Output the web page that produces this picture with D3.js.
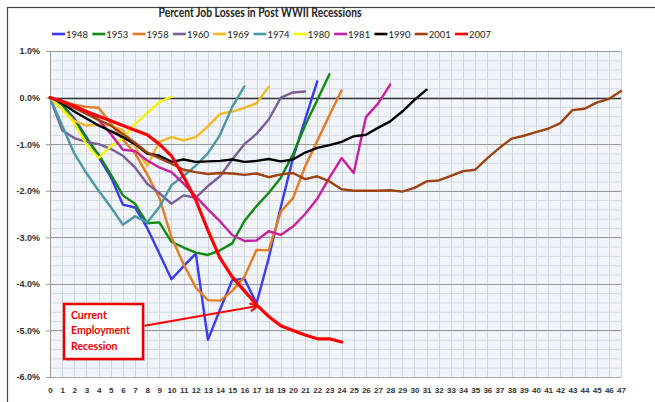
<!DOCTYPE html>
<html>
<head>
<meta charset="utf-8">
<script src="https://cdn.jsdelivr.net/npm/d3@7"></script>
<style>
  body { margin: 0; background: #fff; }
  svg { display: block; font-family: Lato, "Open Sans", sans-serif; }
  .axis text { font-weight: bold; fill: #333; }
</style>
</head>
<body>
<div id="chart"></div>
<script>
// months since peak
var monthTicks = [0, 1, 2, 3, 4, 5, 6, 7, 8, 9, 10, 11, 12, 13, 14, 15, 16, 17, 18, 19, 20, 21, 22, 23,
  24, 25, 26, 27, 28, 29, 30, 31, 32, 33, 34, 35, 36, 37, 38, 39, 40, 41, 42, 43, 44, 45, 46, 47];
var pctTicks = [1, 0, -1, -2, -3, -4, -5, -6];

var years = ["1948", "1953", "1958", "1960", "1969", "1974", "1980", "1981", "1990", "2001", "2007"];

// percent job losses by month
var s1948 = [0, -0.15, -0.45, -0.85, -1.28, -1.7, -2.3, -2.36, -2.8, -3.35, -3.9, -3.62, -3.35, -5.2, -4.55,
  -3.92, -3.89, -4.42, -3.45, -2.35, -1.3, -0.47, 0.35];
var s1953 = [0, -0.15, -0.5, -0.88, -1.22, -1.65, -2.1, -2.28, -2.7, -2.68, -3.1, -3.22, -3.33, -3.38, -3.28,
  -3.13, -2.65, -2.33, -2.05, -1.72, -1.22, -0.6, -0.05, 0.5];
var s1958 = [0, -0.1, -0.15, -0.2, -0.22, -0.55, -0.9, -1.2, -1.65, -2.15, -3.0, -3.58, -4.08, -4.35, -4.36,
  -4.15, -3.85, -3.27, -3.28, -2.45, -2.16, -1.48, -0.93, -0.38, 0.15];
var s1960 = [0, -0.7, -0.87, -0.95, -1.0, -1.1, -1.25, -1.5, -1.85, -2.05, -2.28, -2.1, -2.15, -1.9, -1.69,
  -1.33, -1.0, -0.78, -0.47, 0.0, 0.11, 0.13];
var s1969 = [0, -0.25, -0.5, -0.6, -0.58, -0.6, -0.7, -1.05, -1.47, -0.95, -0.85, -0.92, -0.85, -0.62, -0.35,
  -0.3, -0.22, -0.12, 0.23];
var s1974 = [0, -0.6, -1.2, -1.62, -2.0, -2.35, -2.73, -2.55, -2.68, -2.35, -1.88, -1.68, -1.46, -1.2, -0.8,
  -0.2, 0.24];
var s1980 = [0, -0.25, -0.55, -1.0, -1.3, -1.05, -0.88, -0.57, -0.33, -0.1, 0.02];
var s1981 = [0, -0.1, -0.2, -0.3, -0.48, -0.78, -1.12, -1.15, -1.35, -1.5, -1.6, -1.85, -2.12, -2.4, -2.66,
  -2.95, -3.08, -3.07, -2.87, -2.95, -2.77, -2.5, -2.17, -1.72, -1.3, -1.62, -0.42, -0.13, 0.28];
var s1990 = [0, -0.12, -0.3, -0.45, -0.6, -0.72, -0.85, -1.0, -1.2, -1.25, -1.38, -1.33, -1.38, -1.37, -1.36,
  -1.33, -1.38, -1.36, -1.32, -1.37, -1.33, -1.18, -1.08, -1.02, -0.95, -0.83, -0.8, -0.65, -0.51, -0.3,
  -0.05, 0.17];
var s2001 = [0, -0.1, -0.22, -0.35, -0.48, -0.6, -0.78, -0.97, -1.18, -1.3, -1.42, -1.55, -1.6, -1.64, -1.62,
  -1.63, -1.66, -1.63, -1.71, -1.65, -1.62, -1.75, -1.69, -1.8, -1.97, -2.0, -2.0, -2.0, -1.99, -2.02,
  -1.94, -1.8, -1.78, -1.68, -1.58, -1.55, -1.3, -1.08, -0.88, -0.82, -0.74, -0.67, -0.55, -0.27, -0.24,
  -0.11, -0.03, 0.14];
var s2007 = [0, -0.08, -0.18, -0.3, -0.4, -0.5, -0.6, -0.7, -0.8, -1.0, -1.25, -1.7, -2.2, -2.85, -3.45,
  -3.85, -4.15, -4.45, -4.7, -4.9, -5.0, -5.1, -5.18, -5.18, -5.25];

var seriesValues = [s1948, s1953, s1958, s1960, s1969, s1974, s1980, s1981, s1990, s2001, s2007];

var colors = {
  "1948": "#3a3af2", "1953": "#128a12", "1958": "#e67c22", "1960": "#7a5e9a",
  "1969": "#f5b823", "1974": "#4b98a8", "1980": "#f5f50a", "1981": "#c9209f",
  "1990": "#000000", "2001": "#a0420f", "2007": "#ff0000"
};

var width = 655,
    height = 402;

var svg = d3.select("#chart").append("svg")
    .attr("width", width)
    .attr("height", height);

// outer chart frame
svg.append("rect")
    .attr("x", 7.5).attr("y", 7.5)
    .attr("width", 660).attr("height", 410)
    .attr("fill", "#fff")
    .attr("stroke", "#444")
    .attr("stroke-width", 1.2);

var x = d3.scaleLinear().domain([0, 47]).range([50, 621]);
var y = d3.scaleLinear().domain([-6, 1]).range([377, 51]);

// plot background
svg.append("rect")
    .attr("x", x(0)).attr("y", y(1))
    .attr("width", x(47) - x(0))
    .attr("height", y(-6) - y(1))
    .attr("fill", "#f1f5fa");

// minor horizontal grid (every 0.2%)
svg.append("g")
  .selectAll("line")
  .data(d3.range(-60, 11, 2).map(function(d) { return d / 10; }))
  .enter().append("line")
    .attr("x1", x(0)).attr("x2", x(47))
    .attr("y1", function(d) { return y(d) + 0.5; })
    .attr("y2", function(d) { return y(d) + 0.5; })
    .attr("stroke", "#d3dae3")
    .attr("stroke-width", 1);

// vertical grid
svg.append("g")
  .selectAll("line")
  .data(monthTicks.slice(1))
  .enter().append("line")
    .attr("x1", function(d) { return Math.round(x(d)) + 0.5; })
    .attr("x2", function(d) { return Math.round(x(d)) + 0.5; })
    .attr("y1", y(1)).attr("y2", y(-6))
    .attr("stroke", "#cfd6df")
    .attr("stroke-width", 1);

// major horizontal grid
svg.append("g")
  .selectAll("line")
  .data(pctTicks)
  .enter().append("line")
    .attr("x1", x(0)).attr("x2", x(47))
    .attr("y1", function(d) { return Math.round(y(d)) + 0.5; })
    .attr("y2", function(d) { return Math.round(y(d)) + 0.5; })
    .attr("stroke", function(d) { return d === 0 ? "#333" : "#9a9a9a"; })
    .attr("stroke-width", function(d) { return d === 0 ? 1.5 : 1; });

// y axis
var yAxis = svg.append("g")
    .attr("class", "axis")
    .attr("transform", "translate(" + x(0) + ",0)")
    .call(d3.axisLeft(y)
      .tickValues(pctTicks)
      .tickSize(4)
      .tickPadding(6)
      .tickFormat(function(d) { return d.toFixed(1) + "%"; }));
yAxis.selectAll("text").style("font-size", "9px");
yAxis.selectAll("line, path").attr("stroke", "#999");

// x axis labels
var xAxis = svg.append("g")
    .attr("class", "axis")
    .attr("transform", "translate(0," + y(-6) + ")")
    .call(d3.axisBottom(x)
      .tickValues(monthTicks)
      .tickSize(0)
      .tickPadding(10)
      .tickFormat(d3.format("d")));
xAxis.select(".domain").attr("stroke", "#aaa");
xAxis.selectAll("text").style("font-size", "8px");

// series lines
var line = d3.line()
    .x(function(d, i) { return x(monthTicks[i]); })
    .y(function(d) { return y(d); });

svg.append("g")
  .selectAll("path")
  .data(years)
  .enter().append("path")
    .attr("d", function(d, i) { return line(seriesValues[i]); })
    .attr("fill", "none")
    .attr("stroke", function(d) { return colors[d]; })
    .attr("stroke-width", function(d) { return d === "2007" ? 3.2 : 2.4; })
    .attr("stroke-linejoin", "round")
    .attr("stroke-linecap", "round");

// title
svg.append("text")
    .attr("x", 260).attr("y", 17)
    .attr("text-anchor", "middle")
    .attr("textLength", 203)
    .attr("lengthAdjust", "spacingAndGlyphs")
    .style("font-size", "12.5px")
    .style("font-weight", "bold")
    .style("fill", "#222")
    .text("Percent Job Losses in Post WWII Recessions");

// legend
var legend = svg.append("g")
  .selectAll("g")
  .data(years)
  .enter().append("g")
    .attr("transform", function(d, i) { return "translate(" + (52 + i * 40.3) + ",34)"; });

legend.append("line")
    .attr("x1", 0).attr("x2", 13)
    .attr("stroke", function(d) { return colors[d]; })
    .attr("stroke-width", 2.6);

legend.append("text")
    .attr("x", 14).attr("y", 3.5)
    .style("font-size", "9.5px")
    .style("fill", "#222")
    .text(function(d) { return d; });

// annotation
var defs = svg.append("defs");
defs.append("marker")
    .attr("id", "arrow")
    .attr("viewBox", "0 0 10 10")
    .attr("refX", 9).attr("refY", 5)
    .attr("markerWidth", 5).attr("markerHeight", 5)
    .attr("orient", "auto")
  .append("path")
    .attr("d", "M1,1 L9,5 L1,9")
    .attr("fill", "none")
    .attr("stroke", "#f00")
    .attr("stroke-width", 2);

svg.append("line")
    .attr("x1", 143).attr("y1", 326)
    .attr("x2", 258).attr("y2", 306)
    .attr("stroke", "#f00")
    .attr("stroke-width", 2)
    .attr("marker-end", "url(#arrow)");

svg.append("rect")
    .attr("x", 66).attr("y", 306)
    .attr("width", 79).attr("height", 55)
    .attr("fill", "#bbb")
    .attr("opacity", 0.6);

svg.append("rect")
    .attr("x", 64).attr("y", 304)
    .attr("width", 79).attr("height", 55)
    .attr("fill", "#fff")
    .attr("stroke", "#e00")
    .attr("stroke-width", 2.5);

svg.append("g")
  .selectAll("text")
  .data(["Current", "Employment", "Recession"])
  .enter().append("text")
    .attr("x", 71)
    .attr("y", function(d, i) { return 319 + i * 15.3; })
    .style("font-size", "10.5px")
    .style("font-weight", "bold")
    .style("fill", "#e00")
    .text(function(d) { return d; });
</script>
</body>
</html>
